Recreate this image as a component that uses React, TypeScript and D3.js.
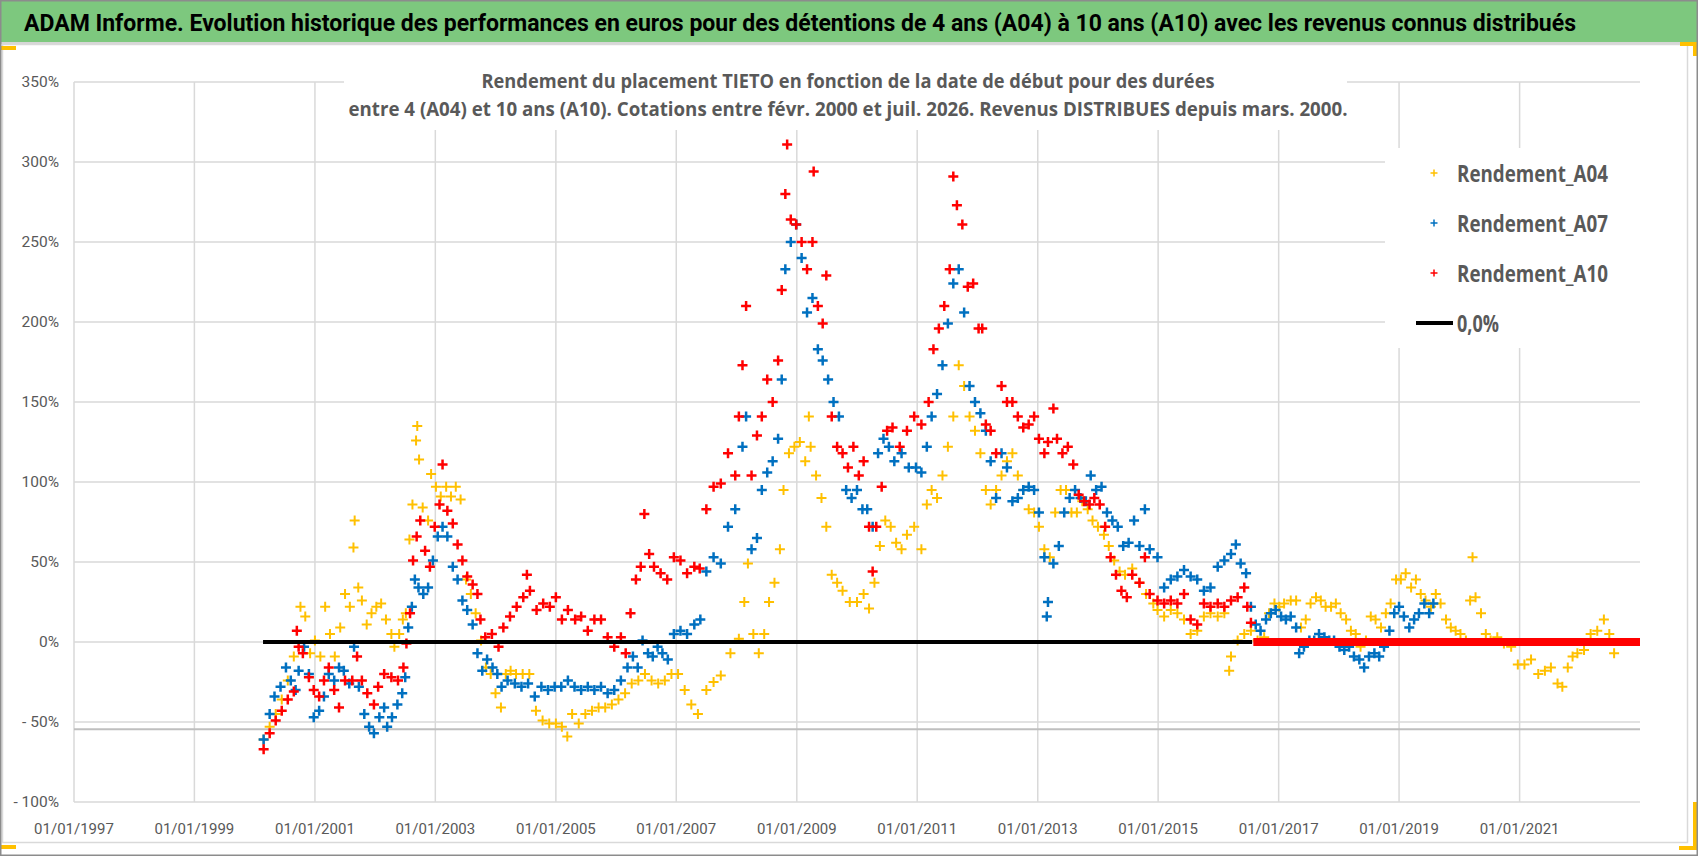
import React, { useRef, useEffect } from "react";
import * as d3 from "d3";

type Pt = [number, number]; // [decimal year, rendement %]

const title =
  "ADAM Informe. Evolution historique des performances en euros pour des détentions de 4 ans (A04) à 10 ans (A10) avec les revenus connus distribués";
const subtitle1 =
  "Rendement du placement TIETO en fonction de la date de début pour des durées";
const subtitle2 =
  "entre 4 (A04) et 10 ans (A10).  Cotations entre févr. 2000 et juil. 2026.  Revenus DISTRIBUES depuis mars. 2000.";

const yTicks = [-100, -50, 0, 50, 100, 150, 200, 250, 300, 350];
const xTickYears = [1997, 1999, 2001, 2003, 2005, 2007, 2009, 2011, 2013, 2015, 2017, 2019, 2021];

const rendementA04: Pt[] = [
  [2000.15, -61], [2000.25, -53], [2000.35, -45], [2000.45, -36], [2000.55, -24], [2000.65, -9],
  [2000.76, 22], [2000.84, 16], [2000.92, -7], [2001.0, 1], [2001.09, -9], [2001.17, 22],
  [2001.25, 5], [2001.33, -9], [2001.42, 9], [2001.5, 30], [2001.58, 22], [2001.64, 59],
  [2001.66, 76], [2001.72, 34], [2001.78, 26], [2001.86, 11], [2001.94, 18], [2002.02, 22],
  [2002.1, 24], [2002.18, 14], [2002.27, 5], [2002.32, -3], [2002.4, 5], [2002.46, 14],
  [2002.51, 18], [2002.57, 64], [2002.62, 86], [2002.68, 126], [2002.7, 135], [2002.73, 114],
  [2002.79, 84], [2002.88, 76], [2002.93, 105], [2003.01, 97], [2003.09, 91], [2003.18, 97],
  [2003.26, 91], [2003.34, 97], [2003.42, 89], [2003.51, 39], [2003.59, 30], [2003.67, 18],
  [2003.76, 1], [2003.84, -16], [2003.92, -20], [2004.0, -32], [2004.09, -41], [2004.17, -20],
  [2004.25, -18], [2004.34, -20], [2004.45, -20], [2004.56, -20], [2004.67, -43], [2004.78, -49],
  [2004.89, -51], [2005.0, -51], [2005.1, -53], [2005.19, -59], [2005.27, -45], [2005.38, -51],
  [2005.49, -45], [2005.6, -43], [2005.71, -41], [2005.82, -41], [2005.93, -39], [2006.04, -36],
  [2006.15, -32], [2006.26, -26], [2006.37, -24], [2006.48, -20], [2006.59, -24], [2006.7, -26],
  [2006.81, -24], [2006.92, -20], [2007.03, -20], [2007.14, -30], [2007.25, -39], [2007.36, -45],
  [2007.5, -30], [2007.62, -25], [2007.74, -21], [2007.9, -7], [2008.04, 2], [2008.13, 25],
  [2008.19, 49], [2008.28, 5], [2008.37, -7], [2008.46, 5], [2008.54, 25], [2008.63, 37],
  [2008.72, 58], [2008.78, 95], [2008.87, 118], [2008.96, 122], [2009.05, 125], [2009.14, 113],
  [2009.2, 141], [2009.23, 122], [2009.32, 104], [2009.41, 90], [2009.49, 72], [2009.58, 42],
  [2009.67, 37], [2009.76, 32], [2009.88, 25], [2010.0, 25], [2010.11, 30], [2010.2, 21],
  [2010.29, 37], [2010.38, 60], [2010.47, 76], [2010.56, 72], [2010.65, 62], [2010.74, 58],
  [2010.83, 67], [2010.95, 72], [2011.07, 58], [2011.16, 86], [2011.24, 95], [2011.33, 90],
  [2011.42, 104], [2011.51, 122], [2011.6, 141], [2011.69, 173], [2011.78, 160], [2011.87, 141],
  [2011.96, 132], [2012.05, 118], [2012.14, 95], [2012.22, 86], [2012.31, 95], [2012.4, 104],
  [2012.49, 113], [2012.58, 118], [2012.67, 104], [2012.76, 95], [2012.85, 83], [2012.94, 81],
  [2013.02, 72], [2013.11, 58], [2013.2, 53], [2013.29, 81], [2013.38, 95], [2013.47, 95],
  [2013.56, 81], [2013.65, 81], [2013.74, 88], [2013.83, 83], [2013.91, 76], [2014.0, 72],
  [2014.1, 67], [2014.18, 60], [2014.27, 51], [2014.36, 44], [2014.45, 42], [2014.57, 46],
  [2014.69, 37], [2014.8, 30], [2014.92, 24], [2014.99, 20], [2015.1, 16], [2015.21, 20],
  [2015.32, 18], [2015.43, 14], [2015.54, 5], [2015.65, 7], [2015.76, 16], [2015.87, 18],
  [2015.99, 16], [2016.1, 18], [2016.18, -18], [2016.21, -9], [2016.32, 1], [2016.43, 5],
  [2016.54, 7], [2016.65, 1], [2016.76, 3], [2016.84, 18], [2016.93, 24], [2017.01, 22],
  [2017.09, 24], [2017.2, 26], [2017.29, 26], [2017.37, 9], [2017.45, 14], [2017.53, 24],
  [2017.62, 28], [2017.7, 26], [2017.78, 22], [2017.87, 22], [2017.95, 24], [2018.03, 18],
  [2018.12, 14], [2018.2, 7], [2018.28, 5], [2018.36, -3], [2018.45, 1], [2018.53, 16],
  [2018.61, 14], [2018.7, 9], [2018.78, 18], [2018.86, 24], [2018.95, 39], [2019.03, 39],
  [2019.11, 43], [2019.2, 34], [2019.28, 39], [2019.36, 30], [2019.44, 26], [2019.53, 22],
  [2019.61, 30], [2019.69, 24], [2019.78, 14], [2019.86, 9], [2019.94, 7], [2020.02, 5],
  [2020.11, 1], [2020.18, 26], [2020.22, 53], [2020.27, 28], [2020.36, 18], [2020.44, 5],
  [2020.52, 1], [2020.63, 3], [2020.74, -1], [2020.86, -3], [2020.97, -14], [2021.08, -14],
  [2021.19, -11], [2021.31, -20], [2021.42, -18], [2021.52, -16], [2021.63, -26], [2021.71, -28],
  [2021.8, -16], [2021.88, -9], [2021.96, -7], [2022.07, -5], [2022.18, 5], [2022.29, 7],
  [2022.4, 14], [2022.49, 5], [2022.57, -7],
];

const rendementA07: Pt[] = [
  [2000.15, -61], [2000.25, -45], [2000.33, -34], [2000.43, -28], [2000.52, -16], [2000.6, -24],
  [2000.68, -30], [2000.73, -18], [2000.82, -3], [2000.9, -20], [2000.98, -47], [2001.07, -43],
  [2001.15, -34], [2001.23, -20], [2001.32, -24], [2001.4, -16], [2001.48, -18], [2001.57, -26],
  [2001.65, -3], [2001.73, -28], [2001.82, -45], [2001.9, -53], [2001.98, -57], [2002.07, -47],
  [2002.15, -41], [2002.2, -53], [2002.28, -47], [2002.37, -39], [2002.45, -32], [2002.5, -22],
  [2002.55, 9], [2002.61, 22], [2002.66, 39], [2002.72, 34], [2002.8, 30], [2002.88, 34],
  [2002.96, 51], [2003.04, 66], [2003.12, 72], [2003.2, 66], [2003.29, 47], [2003.37, 39],
  [2003.45, 26], [2003.53, 20], [2003.62, 11], [2003.7, -7], [2003.78, -18], [2003.86, -11],
  [2003.95, -16], [2004.03, -20], [2004.1, -28], [2004.2, -24], [2004.32, -26], [2004.43, -28],
  [2004.54, -26], [2004.65, -34], [2004.76, -28], [2004.87, -30], [2004.98, -28], [2005.09, -28],
  [2005.2, -24], [2005.31, -28], [2005.42, -30], [2005.53, -28], [2005.64, -30], [2005.75, -28],
  [2005.86, -32], [2005.97, -30], [2006.08, -24], [2006.19, -16], [2006.28, -9], [2006.36, -16],
  [2006.44, 1], [2006.53, -7], [2006.61, -9], [2006.69, -3], [2006.77, -7], [2006.86, -11],
  [2006.96, 5], [2007.07, 7], [2007.18, 5], [2007.3, 11], [2007.4, 14], [2007.5, 44],
  [2007.62, 53], [2007.74, 49], [2007.86, 72], [2007.98, 83], [2008.1, 122], [2008.16, 141],
  [2008.25, 58], [2008.34, 65], [2008.42, 95], [2008.51, 106], [2008.6, 113], [2008.69, 127],
  [2008.75, 164], [2008.81, 233], [2008.9, 250], [2008.99, 261], [2009.08, 240], [2009.17, 206],
  [2009.26, 215], [2009.35, 183], [2009.43, 176], [2009.52, 164], [2009.61, 150], [2009.7, 141],
  [2009.82, 95], [2009.91, 90], [2010.0, 95], [2010.09, 83], [2010.17, 83], [2010.26, 72],
  [2010.35, 118], [2010.44, 127], [2010.53, 122], [2010.62, 113], [2010.74, 118], [2010.86, 109],
  [2010.98, 109], [2011.07, 106], [2011.16, 122], [2011.24, 141], [2011.33, 155], [2011.42, 173],
  [2011.51, 199], [2011.6, 224], [2011.69, 233], [2011.78, 206], [2011.87, 160], [2011.96, 150],
  [2012.05, 143], [2012.14, 132], [2012.22, 113], [2012.31, 90], [2012.4, 118], [2012.49, 109],
  [2012.58, 88], [2012.67, 90], [2012.76, 95], [2012.85, 97], [2012.94, 95], [2013.02, 81],
  [2013.11, 53], [2013.15, 16], [2013.17, 25], [2013.26, 49], [2013.35, 60], [2013.44, 81],
  [2013.53, 90], [2013.62, 95], [2013.71, 90], [2013.8, 88], [2013.88, 104], [2013.97, 95],
  [2014.06, 97], [2014.15, 81], [2014.24, 76], [2014.33, 72], [2014.42, 60], [2014.51, 62],
  [2014.6, 76], [2014.69, 60], [2014.78, 83], [2014.86, 58], [2014.99, 53], [2015.1, 34],
  [2015.21, 39], [2015.32, 41], [2015.43, 45], [2015.54, 41], [2015.65, 39], [2015.76, 32],
  [2015.87, 34], [2015.99, 47], [2016.1, 51], [2016.21, 55], [2016.29, 61], [2016.37, 49],
  [2016.46, 43], [2016.54, 22], [2016.62, 11], [2016.7, 7], [2016.79, 14], [2016.87, 18],
  [2016.95, 20], [2017.04, 16], [2017.12, 14], [2017.2, 16], [2017.29, 9], [2017.34, -7],
  [2017.42, -3], [2017.51, 1], [2017.59, 1], [2017.67, 5], [2017.76, 3], [2017.84, 1],
  [2017.92, 1], [2018.01, -3], [2018.09, -5], [2018.17, -3], [2018.25, -9], [2018.34, -11],
  [2018.42, -16], [2018.5, -9], [2018.59, -7], [2018.67, -9], [2018.75, -3], [2018.84, 7],
  [2018.92, 18], [2019.0, 22], [2019.08, 16], [2019.17, 9], [2019.25, 14], [2019.33, 18],
  [2019.42, 24], [2019.5, 18], [2019.57, 24],
];

const rendementA10: Pt[] = [
  [2000.15, -67], [2000.25, -57], [2000.35, -49], [2000.45, -43], [2000.55, -36], [2000.65, -31],
  [2000.7, 7], [2000.73, -3], [2000.8, -7], [2000.9, -22], [2000.98, -30], [2001.07, -34],
  [2001.15, -24], [2001.23, -16], [2001.32, -30], [2001.4, -41], [2001.5, -24], [2001.62, -24],
  [2001.7, -9], [2001.78, -24], [2001.87, -32], [2001.98, -39], [2002.05, -28], [2002.15, -20],
  [2002.27, -22], [2002.38, -24], [2002.47, -16], [2002.52, -1], [2002.58, 18], [2002.63, 51],
  [2002.69, 66], [2002.75, 76], [2002.83, 57], [2002.91, 47], [2002.99, 72], [2003.07, 86],
  [2003.12, 111], [2003.2, 82], [2003.29, 74], [2003.37, 61], [2003.45, 51], [2003.53, 41],
  [2003.62, 36], [2003.7, 30], [2003.75, 14], [2003.83, 3], [2003.94, 5], [2004.05, -3],
  [2004.13, 9], [2004.24, 16], [2004.35, 22], [2004.46, 28], [2004.52, 42], [2004.57, 32],
  [2004.68, 20], [2004.79, 24], [2004.9, 22], [2005.0, 28], [2005.1, 14], [2005.2, 20],
  [2005.32, 14], [2005.42, 16], [2005.53, 7], [2005.64, 14], [2005.75, 14], [2005.86, 3],
  [2005.97, -3], [2006.08, 3], [2006.16, -7], [2006.24, 18], [2006.33, 39], [2006.41, 47],
  [2006.47, 80], [2006.55, 55], [2006.63, 47], [2006.74, 43], [2006.85, 39], [2006.96, 53],
  [2007.07, 51], [2007.18, 43], [2007.3, 47], [2007.39, 46], [2007.5, 83], [2007.62, 97],
  [2007.74, 99], [2007.86, 118], [2007.98, 104], [2008.04, 141], [2008.1, 173], [2008.16, 210],
  [2008.25, 104], [2008.34, 129], [2008.42, 141], [2008.51, 164], [2008.6, 150], [2008.69, 176],
  [2008.75, 220], [2008.81, 280], [2008.84, 311], [2008.9, 264], [2008.99, 261], [2009.08, 250],
  [2009.17, 233], [2009.26, 250], [2009.28, 294], [2009.35, 210], [2009.43, 199], [2009.49, 229],
  [2009.58, 141], [2009.67, 122], [2009.76, 118], [2009.85, 109], [2009.94, 122], [2010.03, 104],
  [2010.11, 113], [2010.2, 72], [2010.26, 44], [2010.32, 72], [2010.41, 97], [2010.5, 132],
  [2010.59, 134], [2010.71, 122], [2010.83, 132], [2010.95, 141], [2011.07, 136], [2011.19, 150],
  [2011.27, 183], [2011.36, 196], [2011.45, 210], [2011.54, 233], [2011.6, 291], [2011.66, 273],
  [2011.75, 261], [2011.84, 222], [2011.93, 224], [2012.02, 196], [2012.08, 196], [2012.14, 136],
  [2012.22, 132], [2012.31, 118], [2012.4, 160], [2012.49, 150], [2012.58, 150], [2012.67, 141],
  [2012.76, 134], [2012.85, 136], [2012.94, 141], [2013.02, 127], [2013.11, 118], [2013.17, 125],
  [2013.26, 146], [2013.32, 127], [2013.41, 118], [2013.5, 122], [2013.59, 111], [2013.68, 92],
  [2013.77, 88], [2013.86, 86], [2013.94, 90], [2014.03, 86], [2014.12, 72], [2014.21, 53],
  [2014.3, 42], [2014.39, 32], [2014.48, 28], [2014.57, 42], [2014.69, 37], [2014.78, 53],
  [2014.86, 30], [2014.99, 26], [2015.1, 24], [2015.21, 26], [2015.32, 24], [2015.43, 30],
  [2015.54, 14], [2015.65, 11], [2015.76, 24], [2015.87, 22], [2015.99, 24], [2016.1, 22],
  [2016.21, 26], [2016.32, 28], [2016.43, 34], [2016.48, 22], [2016.54, 12],
];

// A10 returns shown as 0 once the 10-year window passes the last quote
const rendementA10Tail: Pt[] = [[2016.58, 0], [2023.0, 0]];
const zeroLine: Pt[] = [[2000.14, 0], [2016.56, 0]];
const greyLine: Pt[] = [[1997.0, -54.5], [2023.0, -54.5]];

const legendItems = [
  { label: "Rendement_A04", color: "#FFC000", kind: "cross" },
  { label: "Rendement_A07", color: "#0070C0", kind: "cross" },
  { label: "Rendement_A10", color: "#FF0000", kind: "cross" },
  { label: "0,0%", color: "#000000", kind: "line" },
];

const toDate = (y: number) => {
  const yr = Math.floor(y);
  const a = Date.UTC(yr, 0, 1);
  const b = Date.UTC(yr + 1, 0, 1);
  return new Date(a + (y - yr) * (b - a));
};

const W = 1698;
const H = 856;
const plot = { left: 74, right: 1640, top: 82, bottom: 802 };
const FONT = "Roboto, 'Open Sans', sans-serif";
const BOLD = "'Open Sans', 'Noto Sans', sans-serif";

const App: React.FC = () => {
  const svgRef = useRef<SVGSVGElement>(null);

  useEffect(() => {
    document.body.style.margin = "0";
    const svg = d3.select(svgRef.current);
    svg.selectAll("*").remove();

    const x = d3
      .scaleUtc()
      .domain([toDate(1997), toDate(2023)])
      .range([plot.left, plot.right]);
    const y = d3.scaleLinear().domain([-100, 350]).range([plot.bottom, plot.top]);

    svg.append("rect").attr("width", W).attr("height", H).attr("fill", "white");

    // title band
    svg.append("rect").attr("x", 0).attr("y", 0).attr("width", W).attr("height", 42).attr("fill", "#7dc87e");
    svg.append("line").attr("x1", 0).attr("x2", W).attr("y1", 43).attr("y2", 43).attr("stroke", "#d6d6d6").attr("stroke-width", 2);
    svg
      .append("g")
      .attr("transform", "translate(24,31) scale(1,1.15)")
      .append("text")
      .attr("x", 0)
      .attr("y", 0)
      .attr("textLength", 1552)
      .attr("lengthAdjust", "spacingAndGlyphs")
      .style("font-family", "Roboto, 'Noto Sans', sans-serif")
      .style("font-weight", 700)
      .style("font-size", "21px")
      .style("fill", "#000")
      .text(title);

    // chart area border
    svg
      .append("rect")
      .attr("x", 2.5)
      .attr("y", 44.5)
      .attr("width", 1685)
      .attr("height", 798)
      .attr("fill", "none")
      .attr("stroke", "#d9d9d9")
      .attr("stroke-width", 1.5);

    // grid
    const grid = svg.append("g");
    grid
      .selectAll(".hgrid")
      .data(yTicks)
      .join("line")
      .attr("x1", plot.left)
      .attr("x2", plot.right)
      .attr("y1", (d) => y(d))
      .attr("y2", (d) => y(d))
      .attr("stroke", "#d9d9d9")
      .attr("stroke-width", 1.5);
    grid
      .selectAll(".vgrid")
      .data(xTickYears)
      .join("line")
      .attr("x1", (d) => x(toDate(d)))
      .attr("x2", (d) => x(toDate(d)))
      .attr("y1", plot.top)
      .attr("y2", plot.bottom)
      .attr("stroke", "#d9d9d9")
      .attr("stroke-width", 1.5);

    const lineGen = d3
      .line<Pt>()
      .x((d) => x(toDate(d[0])))
      .y((d) => y(d[1]));

    svg.append("path").attr("d", lineGen(greyLine)).attr("stroke", "#bfbfbf").attr("stroke-width", 2).attr("fill", "none");

    // subtitle (white box hides the grid behind it)
    svg.append("rect").attr("x", 344).attr("y", 46).attr("width", 1003).attr("height", 84).attr("fill", "white");
    [subtitle1, subtitle2].forEach((s, i) => {
      svg
        .append("text")
        .attr("x", 848)
        .attr("y", i === 0 ? 88 : 116)
        .attr("text-anchor", "middle")
        .attr("textLength", i === 0 ? 733 : 999)
        .attr("lengthAdjust", "spacingAndGlyphs")
        .style("font-family", BOLD)
        .style("font-weight", 700)
        .style("font-size", "20px")
        .style("fill", "#595959")
        .text(s);
    });

    // axis labels
    svg
      .selectAll(".ylab")
      .data(yTicks)
      .join("text")
      .attr("x", 59)
      .attr("y", (d) => y(d))
      .attr("dy", "0.35em")
      .attr("text-anchor", "end")
      .style("font-family", FONT)
      .style("font-size", "15.5px")
      .style("fill", "#595959")
      .text((d) => (d < 0 ? `- ${Math.abs(d)}%` : `${d}%`));
    svg
      .selectAll(".xlab")
      .data(xTickYears)
      .join("text")
      .attr("x", (d) => x(toDate(d)))
      .attr("y", 834)
      .attr("text-anchor", "middle")
      .style("font-family", FONT)
      .style("font-size", "15px")
      .style("fill", "#595959")
      .text((d) => d3.utcFormat("%d/%m/%Y")(toDate(d)));

    // scatter series
    const cross = (s: number) => `M${-s},0H${s}M0,${-s}V${s}`;
    const series: { data: Pt[]; color: string; w: number }[] = [
      { data: rendementA04, color: "#FFC000", w: 2 },
      { data: rendementA07, color: "#0070C0", w: 2.5 },
      { data: rendementA10, color: "#FF0000", w: 2.5 },
    ];
    series.forEach((s) => {
      svg
        .append("g")
        .selectAll("path")
        .data(s.data)
        .join("path")
        .attr("transform", (d) => `translate(${x(toDate(d[0]))},${y(d[1])})`)
        .attr("d", cross(5))
        .attr("stroke", s.color)
        .attr("stroke-width", s.w)
        .attr("fill", "none");
    });

    svg.append("path").attr("d", lineGen(rendementA10Tail)).attr("stroke", "#FF0000").attr("stroke-width", 8).attr("fill", "none");
    svg.append("path").attr("d", lineGen(zeroLine)).attr("stroke", "#000").attr("stroke-width", 4).attr("fill", "none");

    // legend
    svg.append("rect").attr("x", 1385).attr("y", 148).attr("width", 255).attr("height", 200).attr("fill", "white");
    legendItems.forEach((item, i) => {
      const cy = 173 + i * 50;
      if (item.kind === "cross") {
        svg
          .append("path")
          .attr("transform", `translate(1434,${cy})`)
          .attr("d", cross(3.5))
          .attr("stroke", item.color)
          .attr("stroke-width", 1.5);
      } else {
        svg.append("line").attr("x1", 1416).attr("x2", 1453).attr("y1", cy).attr("y2", cy).attr("stroke", item.color).attr("stroke-width", 4);
      }
      svg
        .append("text")
        .attr("x", 1457)
        .attr("y", cy + 9)
        .attr("textLength", item.kind === "cross" ? 151 : 42)
        .attr("lengthAdjust", "spacingAndGlyphs")
        .style("font-family", BOLD)
        .style("font-weight", 700)
        .style("font-size", "23px")
        .style("fill", "#595959")
        .text(item.label);
    });

    // selection handles and outer frame
    const handles = [
      [0, 46, 16, 4],
      [1680, 42, 16, 4],
      [1693, 42, 4, 14],
      [1693, 802, 4, 48],
      [1679, 846, 18, 4],
      [0, 845, 16, 4],
    ];
    handles.forEach(([hx, hy, hw, hh]) => {
      svg.append("rect").attr("x", hx).attr("y", hy).attr("width", hw).attr("height", hh).attr("fill", "#FFC000");
    });
    svg
      .append("rect")
      .attr("x", 0.75)
      .attr("y", 0.75)
      .attr("width", W - 1.5)
      .attr("height", H - 1.5)
      .attr("fill", "none")
      .attr("stroke", "#8c8c8c")
      .attr("stroke-width", 1.5);
  }, []);

  return <svg ref={svgRef} width={W} height={H} style={{ display: "block" }} />;
};

export default App;
